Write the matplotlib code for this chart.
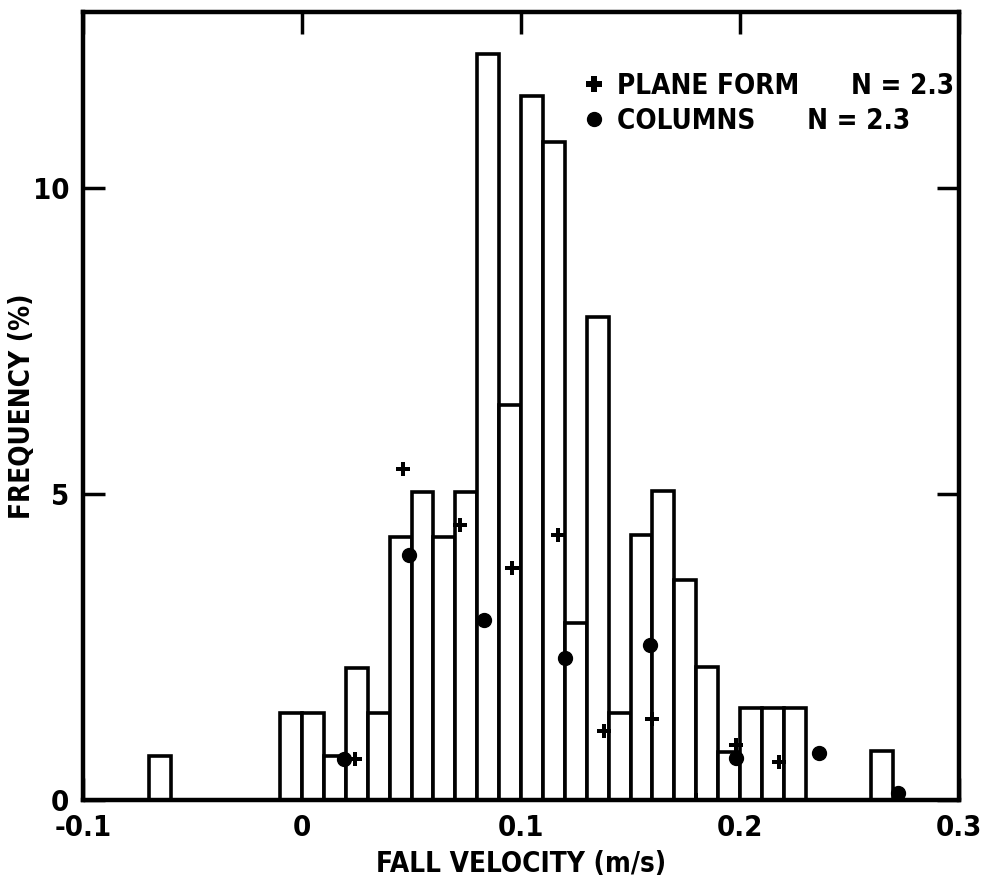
import matplotlib
matplotlib.use("Agg")
import matplotlib.pyplot as plt
from matplotlib.lines import Line2D

plt.rcParams['font.family'] = ['DejaVu Sans']
plt.rcParams['font.stretch'] = 'condensed'
plt.rcParams['font.weight'] = 'bold'

# Histogram: left bin edges (m/s) and frequency (%)
bin_left = [-0.07, -0.01, 0.00, 0.01, 0.02, 0.03, 0.04, 0.05, 0.06, 0.07,
            0.08, 0.09, 0.10, 0.11, 0.12, 0.13, 0.14, 0.15, 0.16, 0.17,
            0.18, 0.19, 0.20, 0.21, 0.22, 0.26]
freq = [0.72, 1.43, 1.43, 0.72, 2.15, 1.43, 4.30, 5.03, 4.30, 5.03,
        12.2, 6.45, 11.5, 10.75, 2.9, 7.9, 1.43, 4.33, 5.05, 3.6,
        2.17, 0.78, 1.5, 1.5, 1.5, 0.8]
bin_width = 0.01

# Plane form (+) points
plane_x = [0.024, 0.046, 0.072, 0.096, 0.117, 0.138, 0.160, 0.180, 0.198, 0.218]
plane_y = [0.67, 5.41, 4.49, 3.79, 4.33, 1.13, 1.32, 0.0, 0.90, 0.62]

# Columns (dots) points
col_x = [0.019, 0.049, 0.083, 0.120, 0.159, 0.198, 0.236, 0.272]
col_y = [0.67, 4.00, 2.95, 2.32, 2.53, 0.69, 0.77, 0.12]

xticks = [-0.1, 0, 0.1, 0.2, 0.3]
xticklabels = ['-0.1', '0', '0.1', '0.2', '0.3']
yticks = [0, 5, 10]
yticklabels = ['0', '5', '10']

fig = plt.figure(figsize=(9.84, 8.84), dpi=100)
ax = fig.add_axes([83/984, 84/884, 876/984, 788/884])

ax.bar(bin_left, freq, width=bin_width, align='edge', facecolor='white',
       edgecolor='black', linewidth=2.6, zorder=2)
ax.plot(plane_x, plane_y, linestyle='none', marker='P', markersize=10,
        color='black', markeredgewidth=0, zorder=3)
ax.plot(col_x, col_y, linestyle='none', marker='o', markersize=10,
        color='black', zorder=3)

ax.set_xlim(-0.1, 0.3)
ax.set_ylim(0, 12.88)
ax.set_xticks(xticks)
ax.set_xticklabels(xticklabels)
ax.set_yticks(yticks)
ax.set_yticklabels(yticklabels)

ax.tick_params(axis='both', direction='in', length=16, width=2.5,
               labelsize=21, top=True, right=True, pad=10)
for sp in ax.spines.values():
    sp.set_linewidth(3.2)

ax.set_xlabel('FALL VELOCITY (m/s)', fontsize=20, fontweight='bold')
ax.set_ylabel('FREQUENCY (%)', fontsize=20, fontweight='bold')
ax.xaxis.set_label_coords(0.5, -0.064)
ax.yaxis.set_label_coords(-0.054, 0.50)

handles = [Line2D([], [], linestyle='none', marker='P', markersize=11,
                  color='black', markeredgewidth=0),
           Line2D([], [], linestyle='none', marker='o', markersize=10,
                  color='black')]
labels = ['PLANE FORM      N = 2.3', 'COLUMNS      N = 2.3']
leg = ax.legend(handles, labels, loc='upper right', frameon=False,
                fontsize=20, handlelength=0.6, handletextpad=0.5,
                borderaxespad=0.2, labelspacing=0.25,
                bbox_to_anchor=(1.013, 0.945))

fig.savefig('out.png', dpi=100, facecolor='white')
